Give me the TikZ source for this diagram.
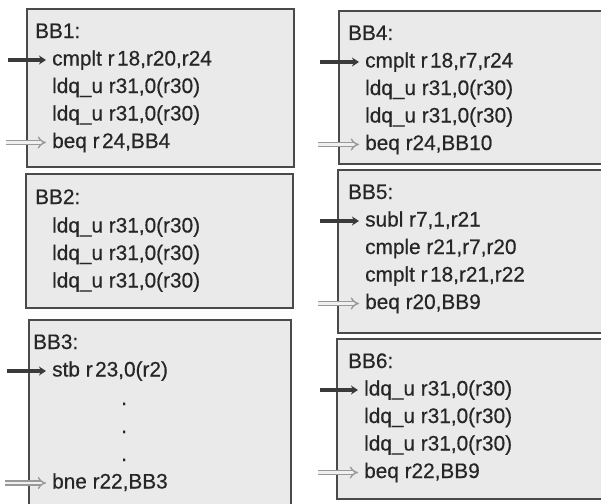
\documentclass[tikz,border=0pt]{standalone}
\usepackage{fontspec}
\setmainfont{Liberation Sans}[FakeStretch=0.99,FakeBold=0.5]
\usetikzlibrary{arrows.meta}
\definecolor{boxfill}{HTML}{EAEAEA}
\definecolor{boxdraw}{HTML}{4A4A4A}
\definecolor{txt}{HTML}{262626}
\definecolor{arrdark}{HTML}{3A3A3A}
\definecolor{arrgray}{HTML}{999999}
\newcommand{\gp}{\hspace{0.12em}}
\tikzset{
  bbox/.style={draw=boxdraw, fill=boxfill, line width=1.6pt, anchor=north west, inner sep=0pt},
  code/.style={anchor=base west, inner sep=0pt, text=txt, font=\fontsize{21}{25}\selectfont},
  entryarrow/.style={draw=arrdark, line width=3.4pt, -{Stealth[length=7pt,width=9pt]}},
  exitarrow/.style={draw=arrgray, double=white!88!gray, double distance=2.6pt, line width=1.4pt, -{Implies}},
}
\begin{document}
\begin{tikzpicture}[x=1pt,y=-1pt]
\useasboundingbox (0,0) rectangle (601,503);
\clip (0,0) rectangle (601,503);
% boxes
\node[bbox, minimum width=267pt, minimum height=158pt] (bb1) at (26,8) {};
\node[bbox, minimum width=267pt, minimum height=134pt] (bb2) at (25,173) {};
\node[bbox, minimum width=262pt, minimum height=196pt] (bb3) at (28,319) {};
\node[bbox, minimum width=280pt, minimum height=153pt] (bb4) at (338,10) {};
\node[bbox, minimum width=280pt, minimum height=163pt] (bb5) at (337,169) {};
\node[bbox, minimum width=280pt, minimum height=160pt] (bb6) at (336,338) {};
% BB1
\node[code] (h1) at (35,38) {BB1:};
\node[code] (t11) at (52,65.5) {cmplt r\gp18,r20,r24};
\node[code] (t12) at (52,93) {ldq\_u r31,0(r30)};
\node[code] (t13) at (52,120.5) {ldq\_u r31,0(r30)};
\node[code] (t14) at (52,148) {beq r\gp24,BB4};
% BB2
\node[code] (h2) at (35,204) {BB2:};
\node[code] (t21) at (52,232.5) {ldq\_u r31,0(r30)};
\node[code] (t22) at (52,260) {ldq\_u r31,0(r30)};
\node[code] (t23) at (52,287.5) {ldq\_u r31,0(r30)};
% BB3
\node[code] (h3) at (33,349) {BB3:};
\node[code] (t31) at (52,376.5) {stb r\gp23,0(r2)};
\node[code] (d1) at (121,405) {.};
\node[code] (d2) at (121,433) {.};
\node[code] (d3) at (121,461) {.};
\node[code] (t32) at (52,488.5) {bne r22,BB3};
% BB4
\node[code] (h4) at (348,40) {BB4:};
\node[code] (t41) at (365,67.5) {cmplt r\gp18,r7,r24};
\node[code] (t42) at (365,95) {ldq\_u r31,0(r30)};
\node[code] (t43) at (365,122.5) {ldq\_u r31,0(r30)};
\node[code] (t44) at (365,150) {beq r24,BB10};
% BB5
\node[code] (h5) at (348,199) {BB5:};
\node[code] (t51) at (365,226.5) {subl r7,1,r21};
\node[code] (t52) at (365,254) {cmple r21,r7,r20};
\node[code] (t53) at (365,281.5) {cmplt r\gp18,r21,r22};
\node[code] (t54) at (365,309) {beq r20,BB9};
% BB6
\node[code] (h6) at (348,368) {BB6:};
\node[code] (t61) at (364,395.5) {ldq\_u r31,0(r30)};
\node[code] (t62) at (364,423) {ldq\_u r31,0(r30)};
\node[code] (t63) at (364,450.5) {ldq\_u r31,0(r30)};
\node[code] (t64) at (364,478) {beq r22,BB9};
% arrow start points
\coordinate (s11) at (8,60);
\coordinate (s14) at (6,142.5);
\coordinate (s31) at (7,371);
\coordinate (s32) at (5,483);
\coordinate (s41) at (320,62);
\coordinate (s44) at (318,144.5);
\coordinate (s51) at (320,221);
\coordinate (s54) at (318,303.5);
\coordinate (s61) at (320,390);
\coordinate (s64) at (318,472.5);
% arrows
\draw[entryarrow] (s11) -- ([xshift=-6pt,yshift=5.5pt]t11.base west);
\draw[exitarrow] (s14) -- ([xshift=-6pt,yshift=5.5pt]t14.base west);
\draw[entryarrow] (s31) -- ([xshift=-6pt,yshift=5.5pt]t31.base west);
\draw[exitarrow] (s32) -- ([xshift=-6pt,yshift=5.5pt]t32.base west);
\draw[entryarrow] (s41) -- ([xshift=-6pt,yshift=5.5pt]t41.base west);
\draw[exitarrow] (s44) -- ([xshift=-6pt,yshift=5.5pt]t44.base west);
\draw[entryarrow] (s51) -- ([xshift=-6pt,yshift=5.5pt]t51.base west);
\draw[exitarrow] (s54) -- ([xshift=-6pt,yshift=5.5pt]t54.base west);
\draw[entryarrow] (s61) -- ([xshift=-6pt,yshift=5.5pt]t61.base west);
\draw[exitarrow] (s64) -- ([xshift=-6pt,yshift=5.5pt]t64.base west);
\end{tikzpicture}
\end{document}
